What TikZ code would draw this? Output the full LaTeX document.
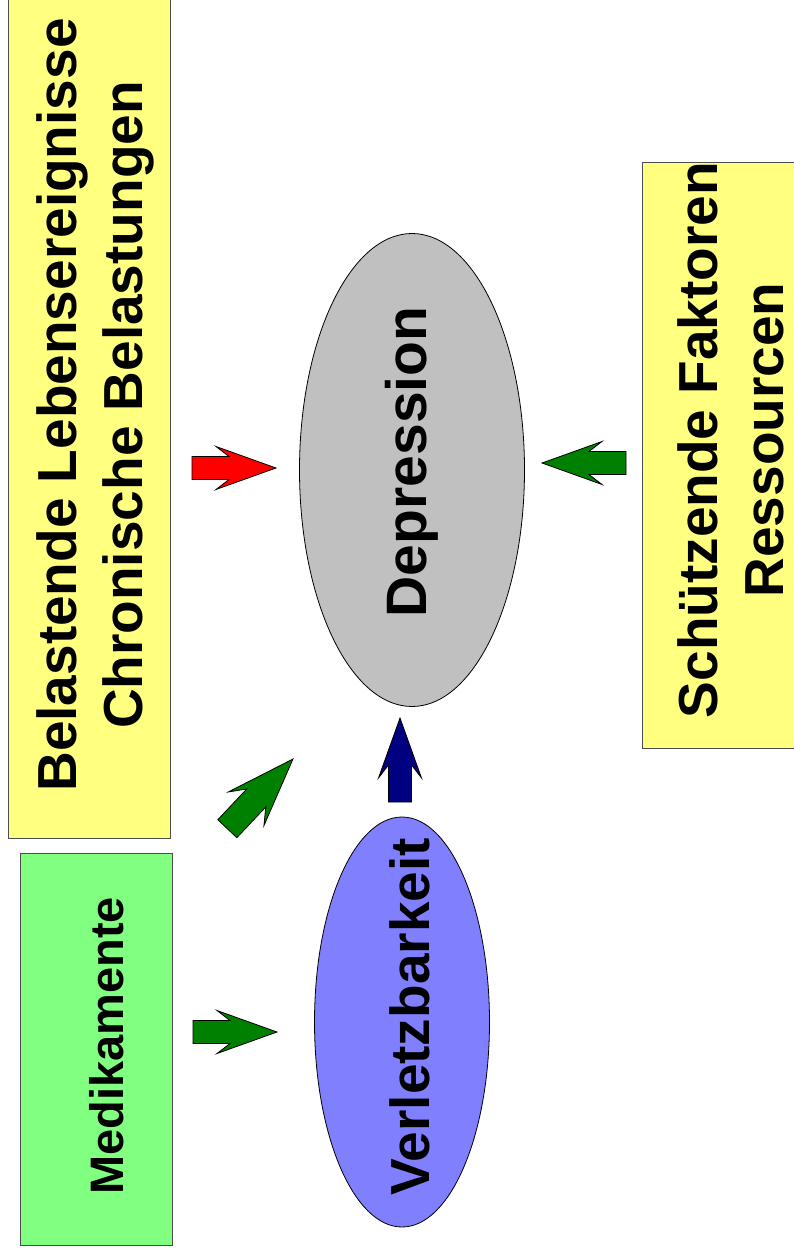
\documentclass[tikz,border=0pt]{standalone}
\usepackage{fontspec}
\setmainfont{Liberation Sans}
\usetikzlibrary{shapes.geometric}
\definecolor{paleyellow}{HTML}{FFFF80}
\definecolor{palegreen}{HTML}{80FF80}
\definecolor{palegray}{HTML}{C0C0C0}
\definecolor{paleblue}{HTML}{8080FF}
\definecolor{darkgreen}{HTML}{008000}
\definecolor{navy}{HTML}{000080}
\tikzset
{%
panel/.style={draw=black!70, line width=0.8pt, inner sep=0},
blob/.style={ellipse, draw=black, line width=0.8pt, inner sep=0},
label/.style={font=\bfseries\fontsize{55}{66}\selectfont, align=center, rotate=90, inner sep=0},
blockarrow/.pic={
	\path [pic actions] (0,0) -- (-60,21.5) -- (-47,11.5) -- (-84,11.5)
	-- (-84,-11.5) -- (-47,-11.5) -- (-60,-21.5) -- cycle;
},
arr/.style={draw=black, line width=0.8pt}
}
\begin{document}
\begin{tikzpicture}[x=1pt, y=-1pt]
		\useasboundingbox (0,0) rectangle (793,1255);
		% boxes
		\node[panel, fill=paleyellow, minimum width=162, minimum height=866] (stressbox) at (89,405) {};
		\node[panel, fill=palegreen, minimum width=152, minimum height=392] (drugbox) at (96,1049) {};
		\node[panel, fill=paleyellow, minimum width=170, minimum height=586] (protectbox) at (727,455) {};
		\node[label] (stress) at (95,405) {Belastende Lebensereignisse\\Chronische Belastungen};
		\node[label, font=\bfseries\fontsize{47}{56}\selectfont] (drug) at (107,1046) {Medikamente};
		\node[label] (protect) at (731,440) {Schützende Faktoren\\Ressourcen};

		% ellipses
		\node[blob, fill=palegray, minimum width=225, minimum height=473] (depbox) at (412,470) {};
		\node[blob, fill=paleblue, minimum width=175, minimum height=410] (vulbox) at (402,1022) {};
		\node[label, font=\bfseries\fontsize{57}{68}\selectfont] (dep) at (412,462) {Depression};
		\node[label] (vul) at (410,1017) {Verletzbarkeit};

		% arrows
		\pic[arr, fill=red] (stressarrow) at (276,468) {blockarrow};
		\pic[arr, fill=darkgreen, rotate=180] (protectarrow) at (542,463) {blockarrow};
		\pic[arr, fill=darkgreen, rotate=46.7, scale=1.14] (drugdeparrow) at (293,759) {blockarrow};
		\pic[arr, fill=navy, rotate=90] (vularrow) at (400,718) {blockarrow};
		\pic[arr, fill=darkgreen] (drugarrow) at (277,1032) {blockarrow};
	\end{tikzpicture}
\end{document}
